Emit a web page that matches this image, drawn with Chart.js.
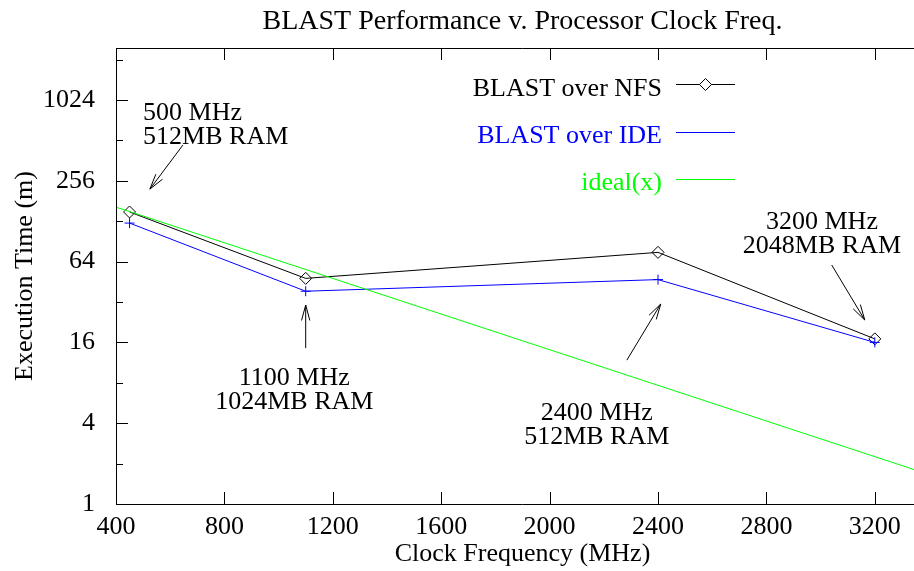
<!DOCTYPE html>
<html lang="en">
<head>
    <meta charset="UTF-8">
    <title>BLAST Performance v. Processor Clock Freq.</title>
    <script src="https://cdn.jsdelivr.net/npm/chart.js"></script>
    <style>
        html, body { margin: 0; padding: 0; overflow: hidden; background: #fff; }
    </style>
</head>
<body>
    <canvas id="blastChart" width="936" height="571"></canvas>

    <script>
        // clock frequency of each test machine (MHz)
        const clockMHz = [450, 1100, 2400, 3200];
        // execution time (minutes)
        const nfsTimes = [150, 48, 75, 17];
        const ideTimes = [124, 38.5, 47, 16];
        // ideal(x): straight line on the log plot, its two ends
        const idealMHz = [400, 3400];
        const idealTimes = [163, 1.66];

        const xTicks = [400, 800, 1200, 1600, 2000, 2400, 2800, 3200];
        const yTicks = [1, 2, 4, 8, 16, 32, 64, 128, 256, 512, 1024, 2048];
        const yLabelled = [1, 4, 16, 64, 256, 1024];

        // labels + arrows, placed in data coordinates (MHz, minutes)
        const notes = [
            { text: ['500 MHz', '512MB RAM'], x: 500, y: 727, align: 'left', from: [647, 473], to: [525, 222] },
            { text: ['1100 MHz', '1024MB RAM'], x: 1058, y: 7.7, align: 'center', from: [1100, 14.5], to: [1100, 30.4] },
            { text: ['2400 MHz', '512MB RAM'], x: 2174, y: 4.23, align: 'center', from: [2285, 11.8], to: [2410, 30.9] },
            { text: ['3200 MHz', '2048MB RAM'], x: 3005, y: 112, align: 'center', from: [3041, 60.4], to: [3163, 23.5] }
        ];

        const serif = '"Liberation Serif", "Times New Roman", serif';
        const fontSize = 26;

        function toPoints(xs, ys) {
            return xs.map((x, i) => ({ x: x, y: ys[i] }));
        }

        function drawArrow(ctx, x1, y1, x2, y2) {
            const ang = Math.atan2(y2 - y1, x2 - x1);
            const len = 16, spread = Math.PI / 12;
            ctx.beginPath();
            ctx.moveTo(x1, y1);
            ctx.lineTo(x2, y2);
            ctx.moveTo(x2 - len * Math.cos(ang - spread), y2 - len * Math.sin(ang - spread));
            ctx.lineTo(x2, y2);
            ctx.lineTo(x2 - len * Math.cos(ang + spread), y2 - len * Math.sin(ang + spread));
            ctx.stroke();
        }

        // gnuplot style frame: inward ticks, mirrored on top, title, legend, labels
        const gnuplotLook = {
            id: 'gnuplotLook',
            afterDraw(chart) {
                const ctx = chart.ctx;
                const a = chart.chartArea;
                const xs = chart.scales.x, ys = chart.scales.y;
                ctx.save();
                ctx.strokeStyle = '#000';
                ctx.lineWidth = 1;

                // left, bottom and top border (right edge falls outside the picture)
                ctx.beginPath();
                ctx.moveTo(a.right, a.top + 0.5);
                ctx.lineTo(a.left + 0.5, a.top + 0.5);
                ctx.lineTo(a.left + 0.5, a.bottom + 0.5);
                ctx.lineTo(a.right, a.bottom + 0.5);
                ctx.stroke();

                ctx.beginPath();
                xTicks.forEach(v => {
                    const px = Math.round(xs.getPixelForValue(v)) + 0.5;
                    ctx.moveTo(px, a.bottom); ctx.lineTo(px, a.bottom - 12);
                    ctx.moveTo(px, a.top); ctx.lineTo(px, a.top + 12);
                });
                yTicks.forEach(v => {
                    const py = Math.round(ys.getPixelForValue(v)) + 0.5;
                    const len = yLabelled.includes(v) ? 12 : 7;
                    ctx.moveTo(a.left, py); ctx.lineTo(a.left + len, py);
                });
                ctx.stroke();

                ctx.fillStyle = '#000';
                ctx.textBaseline = 'alphabetic';

                // title
                ctx.font = '28px ' + serif;
                ctx.textAlign = 'center';
                ctx.fillText('BLAST Performance v. Processor Clock Freq.', (a.left + a.right) / 2, 29);

                ctx.font = fontSize + 'px ' + serif;

                // legend
                const legendRows = [
                    { text: 'BLAST over NFS', color: '#000000', base: 96, line: 84, diamond: true },
                    { text: 'BLAST over IDE', color: '#0000ff', base: 143, line: 132 },
                    { text: 'ideal(x)', color: '#00ff00', base: 190, line: 179 }
                ];
                legendRows.forEach(r => {
                    ctx.textAlign = 'right';
                    ctx.fillStyle = r.color;
                    ctx.fillText(r.text, 662, r.base);
                    ctx.strokeStyle = r.color;
                    ctx.beginPath();
                    ctx.moveTo(676, r.line + 0.5);
                    ctx.lineTo(735, r.line + 0.5);
                    ctx.stroke();
                    if (r.diamond) {
                        ctx.fillStyle = '#fff';
                        ctx.beginPath();
                        ctx.moveTo(705.5, r.line - 5.5);
                        ctx.lineTo(711.5, r.line + 0.5);
                        ctx.lineTo(705.5, r.line + 6.5);
                        ctx.lineTo(699.5, r.line + 0.5);
                        ctx.closePath();
                        ctx.fill();
                        ctx.stroke();
                    }
                });

                // annotations
                ctx.fillStyle = '#000';
                ctx.strokeStyle = '#000';
                notes.forEach(n => {
                    const px = xs.getPixelForValue(n.x);
                    const py = ys.getPixelForValue(n.y);
                    ctx.textAlign = n.align;
                    n.text.forEach((t, i) => ctx.fillText(t, px, py + i * 24));
                    drawArrow(ctx,
                        xs.getPixelForValue(n.from[0]), ys.getPixelForValue(n.from[1]),
                        xs.getPixelForValue(n.to[0]), ys.getPixelForValue(n.to[1]));
                });
                ctx.restore();
            }
        };

        const blastCtx = document.getElementById('blastChart').getContext('2d');
        const blastChart = new Chart(blastCtx, {
            type: 'line',
            data: {
                datasets: [{
                    label: 'BLAST over NFS',
                    data: toPoints(clockMHz, nfsTimes),
                    borderColor: '#000000',
                    borderWidth: 1,
                    pointStyle: 'rectRot',
                    pointRadius: 6,
                    pointBorderWidth: 1,
                    pointBorderColor: '#000000',
                    pointBackgroundColor: 'rgba(0,0,0,0)',
                    order: 2
                }, {
                    label: 'BLAST over IDE',
                    data: toPoints(clockMHz, ideTimes),
                    borderColor: '#0000ff',
                    borderWidth: 1,
                    pointStyle: 'cross',
                    pointRadius: 5,
                    pointBorderWidth: 1,
                    pointBorderColor: '#0000ff',
                    order: 1
                }, {
                    label: 'ideal(x)',
                    data: toPoints(idealMHz, idealTimes),
                    borderColor: '#00ff00',
                    borderWidth: 1,
                    pointRadius: 0,
                    order: 0
                }]
            },
            options: {
                responsive: false,
                animation: false,
                layout: { padding: { top: 48, right: 2, left: 0, bottom: 0 } },
                plugins: {
                    legend: { display: false },
                    title: { display: false },
                    tooltip: { enabled: false }
                },
                scales: {
                    x: {
                        type: 'linear',
                        min: 400,
                        max: 3400,
                        afterBuildTicks: s => { s.ticks = xTicks.map(v => ({ value: v })); },
                        afterFit: s => { s.height = 67; },
                        grid: { display: false },
                        border: { display: false },
                        ticks: {
                            font: { family: serif, size: fontSize },
                            color: '#000',
                            padding: 0,
                            maxRotation: 0,
                            autoSkip: false,
                            callback: v => String(v)
                        },
                        title: {
                            display: true,
                            text: 'Clock Frequency (MHz)',
                            font: { family: serif, size: fontSize },
                            color: '#000',
                            padding: { top: 0, bottom: 1 }
                        }
                    },
                    y: {
                        type: 'logarithmic',
                        min: 1,
                        max: 2500,
                        afterBuildTicks: s => { s.ticks = yTicks.map(v => ({ value: v })); },
                        afterFit: s => { s.width = 116; },
                        grid: { display: false },
                        border: { display: false },
                        ticks: {
                            font: { family: serif, size: fontSize },
                            color: '#000',
                            padding: 13,
                            autoSkip: false,
                            callback: v => yLabelled.includes(v) ? String(v) : ''
                        },
                        title: {
                            display: true,
                            text: 'Execution Time (m)',
                            font: { family: serif, size: fontSize },
                            color: '#000',
                            padding: { top: 10, bottom: 0 }
                        }
                    }
                }
            },
            plugins: [gnuplotLook]
        });
    </script>
</body>
</html>
